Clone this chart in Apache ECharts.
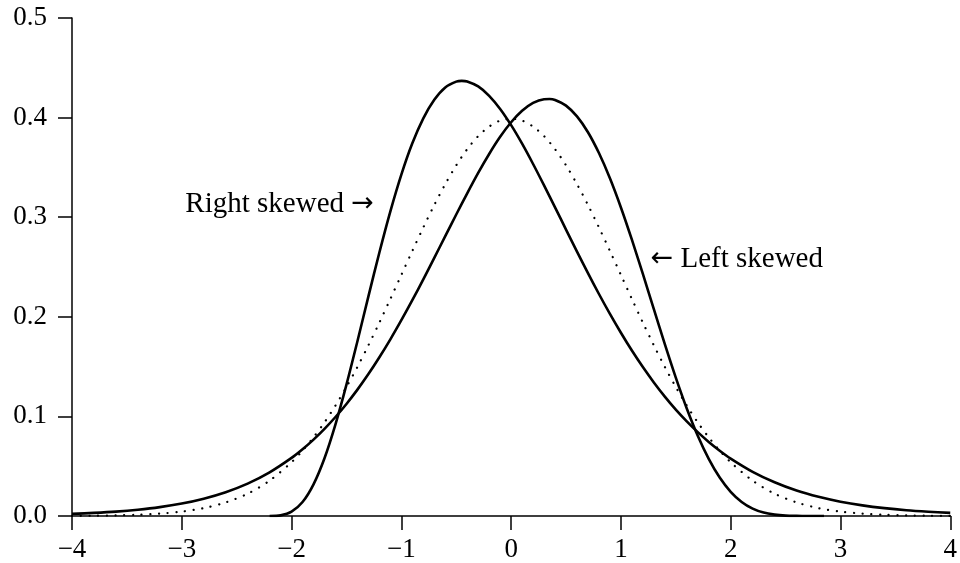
<!DOCTYPE html>
<html>
<head>
<meta charset="utf-8">
<script src="https://cdn.jsdelivr.net/npm/echarts@6/dist/echarts.min.js"></script>
<style>
  html, body { margin: 0; padding: 0; background: #fff; }
  #chart { width: 960px; height: 563px; }
</style>
</head>
<body>
<div id="chart"></div>
<script>
// Density curves: a right-skewed and a left-skewed distribution around the normal curve.
const rightX = [-2.2, -2.1, -2.0, -1.9, -1.8, -1.7, -1.6, -1.5, -1.4, -1.3, -1.2, -1.1, -1.0, -0.9, -0.8, -0.7, -0.6, -0.5, -0.45, -0.4, -0.3, -0.2, -0.1, 0.0, 0.1, 0.2, 0.3, 0.4, 0.5, 0.6, 0.7, 0.8, 0.9, 1.0, 1.1, 1.2, 1.3, 1.4, 1.5, 1.6, 1.7, 1.8, 1.9, 2.0, 2.2, 2.4, 2.6, 2.8, 3.0, 3.2, 3.4, 3.6, 3.8, 4.0];
const rightY = [0.0000, 0.0006, 0.0043, 0.0140, 0.0318, 0.0580, 0.0920, 0.1319, 0.1755, 0.2205, 0.2646, 0.3059, 0.3428, 0.3742, 0.3993, 0.4179, 0.4303, 0.4361, 0.4369, 0.4363, 0.4313, 0.4219, 0.4087, 0.3924, 0.3738, 0.3534, 0.3319, 0.3099, 0.2876, 0.2654, 0.2438, 0.2229, 0.2029, 0.1840, 0.1661, 0.1495, 0.1341, 0.1199, 0.1068, 0.0950, 0.0842, 0.0744, 0.0656, 0.0577, 0.0444, 0.0339, 0.0256, 0.0193, 0.0144, 0.0107, 0.0079, 0.0058, 0.0043, 0.0031];

const leftX = [-4.0, -3.8, -3.6, -3.4, -3.2, -3.0, -2.8, -2.6, -2.4, -2.2, -2.0, -1.9, -1.8, -1.7, -1.6, -1.5, -1.4, -1.3, -1.2, -1.1, -1.0, -0.9, -0.8, -0.7, -0.6, -0.5, -0.4, -0.3, -0.2, -0.1, 0.0, 0.1, 0.2, 0.3, 0.35, 0.4, 0.5, 0.6, 0.7, 0.8, 0.9, 1.0, 1.1, 1.2, 1.3, 1.4, 1.5, 1.6, 1.7, 1.8, 1.9, 2.0, 2.1, 2.2, 2.3, 2.4, 2.5, 2.6, 2.7, 2.8, 2.85];
const leftY = [0.0021, 0.0031, 0.0044, 0.0063, 0.0089, 0.0125, 0.0174, 0.0239, 0.0325, 0.0438, 0.0583, 0.0670, 0.0767, 0.0875, 0.0994, 0.1125, 0.1269, 0.1425, 0.1594, 0.1774, 0.1966, 0.2167, 0.2376, 0.2591, 0.2810, 0.3027, 0.3240, 0.3445, 0.3635, 0.3807, 0.3953, 0.4068, 0.4147, 0.4185, 0.4187, 0.4177, 0.4120, 0.4012, 0.3853, 0.3644, 0.3391, 0.3098, 0.2774, 0.2430, 0.2076, 0.1726, 0.1390, 0.1080, 0.0806, 0.0574, 0.0386, 0.0243, 0.0141, 0.0074, 0.0034, 0.0014, 0.0004, 0.0001, 0.0000, 0.0000, 0.0000];

const normalX = [-4.0, -3.8, -3.6, -3.4, -3.2, -3.0, -2.8, -2.6, -2.4, -2.2, -2.0, -1.9, -1.8, -1.7, -1.6, -1.5, -1.4, -1.3, -1.2, -1.1, -1.0, -0.9, -0.8, -0.7, -0.6, -0.5, -0.4, -0.3, -0.2, -0.1, 0.0, 0.1, 0.2, 0.3, 0.4, 0.5, 0.6, 0.7, 0.8, 0.9, 1.0, 1.1, 1.2, 1.3, 1.4, 1.5, 1.6, 1.7, 1.8, 1.9, 2.0, 2.2, 2.4, 2.6, 2.8, 3.0, 3.2, 3.4, 3.6, 3.8, 4.0];
const normalY = [0.0001, 0.0003, 0.0006, 0.0012, 0.0024, 0.0044, 0.0079, 0.0136, 0.0224, 0.0355, 0.0540, 0.0656, 0.0790, 0.0940, 0.1109, 0.1295, 0.1497, 0.1714, 0.1942, 0.2179, 0.2420, 0.2661, 0.2897, 0.3123, 0.3332, 0.3521, 0.3683, 0.3814, 0.3910, 0.3970, 0.3989, 0.3970, 0.3910, 0.3814, 0.3683, 0.3521, 0.3332, 0.3123, 0.2897, 0.2661, 0.2420, 0.2179, 0.1942, 0.1714, 0.1497, 0.1295, 0.1109, 0.0940, 0.0790, 0.0656, 0.0540, 0.0355, 0.0224, 0.0136, 0.0079, 0.0044, 0.0024, 0.0012, 0.0006, 0.0003, 0.0001];

// Annotation anchors in data units: [x, y]
const rightLabelAt = [-1.25, 0.313];
const leftLabelAt = [1.27, 0.258];
const rightLabelText = '{t|Right skewed }{a|\u2192}';
const leftLabelText = '{a|\u2190}{t| Left skewed}';

const xTicks = { min: -4, max: 4, step: 1 };
const yTicks = { min: 0, max: 0.5, step: 0.1 };

const pairs = (xs, ys) => xs.map((x, i) => [x, ys[i]]);
const FONT = '"Liberation Serif", "DejaVu Serif", serif';

const axisCommon = {
  axisLine: { show: true, onZero: false, lineStyle: { color: '#000', width: 1.5 } },
  axisTick: { show: true, inside: false, length: 14, lineStyle: { color: '#000', width: 1.5 } },
  splitLine: { show: false },
};

const annotationRich = {
  t: { color: '#000', fontFamily: FONT, fontSize: 29 },
  a: { color: '#000', fontFamily: '"DejaVu Sans", sans-serif', fontSize: 27 }
};

const chart = echarts.init(document.getElementById('chart'), null, { renderer: 'canvas' });
chart.setOption({
  animation: false,
  backgroundColor: '#fff',
  grid: { left: 72, right: 7, top: 18, bottom: 47, containLabel: false },
  xAxis: Object.assign({
    type: 'value',
    min: xTicks.min, max: xTicks.max, interval: xTicks.step,
    axisLabel: {
      color: '#000', fontFamily: FONT, fontSize: 27, margin: 20,
      formatter: v => String(v).replace('-', '\u2212')
    }
  }, axisCommon),
  yAxis: Object.assign({
    type: 'value',
    min: yTicks.min, max: yTicks.max, interval: yTicks.step,
    axisLabel: {
      color: '#000', fontFamily: FONT, fontSize: 27, margin: 25,
      padding: [3, 0, 0, 0],
      formatter: v => v.toFixed(1)
    }
  }, axisCommon),
  series: [
    {
      name: 'Normal', type: 'line', data: pairs(normalX, normalY),
      showSymbol: false, smooth: 0.3,
      lineStyle: { color: '#000', width: 2.2, type: [0.1, 8.6], cap: 'round' }
    },
    {
      name: 'Right skewed', type: 'line', data: pairs(rightX, rightY),
      showSymbol: false, smooth: 0.3,
      lineStyle: { color: '#000', width: 2.6, join: 'round' },
      markPoint: {
        symbol: 'circle', symbolSize: 0,
        label: { show: true, position: 'left', distance: 0, formatter: rightLabelText, rich: annotationRich },
        data: [{ coord: rightLabelAt }]
      }
    },
    {
      name: 'Left skewed', type: 'line', data: pairs(leftX, leftY),
      showSymbol: false, smooth: 0.3,
      lineStyle: { color: '#000', width: 2.6, join: 'round' },
      markPoint: {
        symbol: 'circle', symbolSize: 0,
        label: { show: true, position: 'right', distance: 0, formatter: leftLabelText, rich: annotationRich },
        data: [{ coord: leftLabelAt }]
      }
    }
  ]
});
</script>
</body>
</html>
